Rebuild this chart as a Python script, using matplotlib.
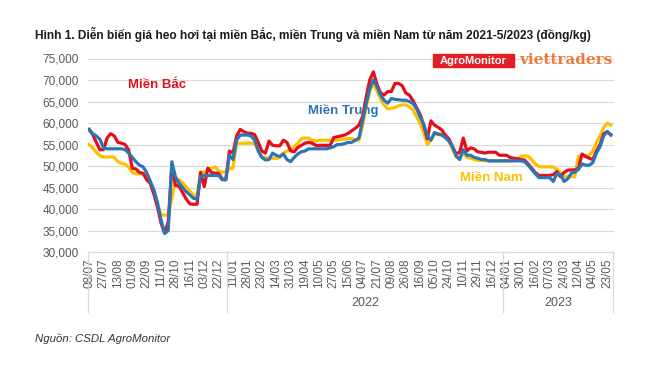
import matplotlib
matplotlib.use('Agg')
import matplotlib.pyplot as plt
from matplotlib.patches import Rectangle
from matplotlib.ticker import FuncFormatter, MultipleLocator

plt.rcParams['font.family'] = ['Liberation Sans', 'DejaVu Sans']

# x axis: one category per data point, a date label on every 4th one
tick_labels = ['08/07', '27/07', '13/08', '01/09', '22/09', '11/10', '28/10', '16/11', '03/12', '22/12',
               '11/01', '28/01', '23/02', '14/03', '31/03', '19/04', '10/05', '27/05', '15/06', '04/07',
               '21/07', '09/08', '26/08', '16/09', '05/10', '24/10', '10/11', '29/11', '16/12',
               '04/01', '30/01', '16/02', '07/03', '24/03', '12/04', '04/05', '23/05']
years = ['2022', '2023']
year_starts = [38.3, 115.0]   # category position where each year begins

# hog prices, dong/kg
mien_bac = [58500, 57300, 55500, 53800, 53800, 56500, 57500, 57000, 55500, 55300,
            55000, 53700, 49500, 49300, 48500, 48300, 46800, 46000, 43500, 40500,
            36700, 34400, 37000, 50200, 45500, 45300, 43800, 42300, 41200, 41100,
            41100, 48500, 45200, 49500, 48500, 48300, 48300, 47000, 46800, 53500,
            53000, 57000, 58500, 58000, 57600, 57600, 57300, 55500, 53500, 53000,
            55800, 54800, 54700, 54700, 56000, 55500, 53500, 53300, 54300, 54800,
            55300, 55500, 55300, 54800, 54800, 54800, 54800, 54800, 56600, 56800,
            57000, 57200, 57600, 58200, 58800, 59500, 61500, 66000, 70000, 71900,
            69000, 67000, 66500, 67300, 67300, 69200, 69200, 68700, 67000, 66500,
            65200, 63600, 62000, 59500, 56300, 60500, 59500, 59000, 58400, 57200,
            56300, 54500, 52800, 53200, 56500, 53500, 54200, 54000, 53300, 53200,
            53000, 53200, 53200, 53200, 52500, 52500, 52500, 52000, 51800, 51700,
            51500, 51400, 50500, 49500, 48500, 47800, 47800, 47800, 47800, 48000,
            48700, 47500, 48500, 49000, 49100, 49100, 49500, 52800, 52200, 51800,
            51500, 53500, 55000, 57500, 58000, 57200]
mien_trung = [58500, 57500, 57000, 56200, 54200, 54000, 54000, 54000, 54000, 54000,
              53800, 53000, 52000, 51000, 50200, 49800, 48500, 46500, 44500, 41500,
              37500, 34300, 35000, 51000, 47500, 46000, 45000, 44000, 43300, 42500,
              42300, 47500, 47800, 47800, 47800, 47800, 47800, 46800, 46800, 52500,
              51500, 56000, 57200, 57200, 57200, 57000, 56000, 53500, 52000, 51400,
              51500, 53000, 52500, 52200, 52800, 51500, 51000, 52000, 52800, 53300,
              53500, 54000, 54000, 54000, 54000, 54000, 54000, 54200, 54500, 55000,
              55000, 55200, 55500, 55500, 56000, 56500, 60500, 64500, 68000, 70000,
              68500, 66500, 65300, 64600, 65700, 65500, 65400, 65300, 65300, 65000,
              64500, 63300, 61400, 59700, 57000, 56000, 57800, 57400, 57200, 56600,
              55800, 54500, 52300, 51500, 53800, 52500, 52500, 52000, 51800, 51500,
              51500, 51200, 51200, 51200, 51200, 51200, 51200, 51200, 51200, 51200,
              51200, 51000, 50200, 49200, 48200, 47300, 47300, 47300, 47300, 46400,
              48200, 48000, 46400, 47000, 48300, 48600, 49200, 50500, 50200, 50200,
              50800, 53000, 54500, 57000, 58000, 57300]
mien_nam = [55000, 54200, 53200, 52400, 52100, 52100, 52100, 52000, 51000, 50600,
            50400, 49800, 48500, 48200, 48200, 48200, 47800, 46200, 44000, 41200,
            38600, 38600, 38600, 42500, 46500, 46800, 46000, 45200, 44200, 43300,
            43000, 48600, 48500, 49000, 49500, 49800, 48800, 48600, 48600, 49400,
            49500, 55300, 55300, 55300, 55300, 55300, 55300, 54000, 52000, 52000,
            51800, 51800, 51800, 52000, 53000, 53500, 53800, 54500, 55300, 56400,
            56500, 56500, 56000, 55800, 56000, 56000, 56000, 56000, 56000, 56000,
            56200, 56200, 56400, 56400, 56000, 56000, 59500, 63500, 67500, 69000,
            67500, 65500, 64200, 63300, 63400, 63600, 64000, 64200, 64200, 63800,
            63000, 61500, 59800, 57800, 55000, 56000, 57300, 57500, 57500, 57000,
            55800, 54000, 52200, 52000, 53000, 52000, 51800, 51500, 51300, 51300,
            51200, 51200, 51200, 51200, 51200, 51200, 51200, 51200, 51200, 51500,
            52300, 52300, 52300, 51500, 50500, 49900, 49800, 49800, 49800, 49800,
            49200, 48500, 47500, 47500, 47500, 47500, 52300, 52300, 52300, 52500,
            53500, 55500, 57000, 59000, 60000, 59500]

RED = '#E3101B'
BLUE = '#2E75B6'
YELLOW = '#FFC000'
GREY = '#595959'
GRID = '#D9D9D9'

fig = plt.figure(figsize=(6.5, 3.66), dpi=100)
ax = fig.add_axes([88 / 650, 1 - 252 / 366, 525 / 650, 193.5 / 366])

x = range(len(mien_bac))
ax.plot(x, mien_nam, color=YELLOW, lw=2.3, zorder=3)
ax.plot(x, mien_bac, color=RED, lw=2.3, zorder=4)
ax.plot(x, mien_trung, color=BLUE, lw=2.3, zorder=5)

x0, x1 = -0.3, len(mien_bac) - 0.4
ax.set_xlim(x0, x1)
ax.set_ylim(30000, 75000)
ax.yaxis.set_major_locator(MultipleLocator(5000))
ax.yaxis.set_major_formatter(FuncFormatter(lambda v, p: f'{v:,.0f}'))
ax.grid(axis='y', color=GRID, lw=0.9)
ax.set_axisbelow(True)
for line in ax.get_ygridlines():
    line.set_clip_on(False)
for s in ax.spines.values():
    s.set_visible(False)

ax.set_xticks(range(0, 4 * len(tick_labels), 4))
ax.set_xticklabels(tick_labels, rotation=90)
ax.tick_params(axis='x', length=0, pad=4.5, labelsize=8.5, colors=GREY)
ax.tick_params(axis='y', length=0, pad=6.5, labelsize=8.5, colors=GREY)

# year separators and year labels under the date labels
trans = ax.get_xaxis_transform()
for xb in [x0] + year_starts + [x1]:
    ax.plot([xb, xb], [0, -0.31], transform=trans, color=GRID, lw=0.9, clip_on=False)
edges = year_starts + [x1]
for i, yr in enumerate(years):
    ax.text((edges[i] + edges[i + 1]) / 2, -0.264, yr, transform=trans,
            ha='center', va='center', fontsize=9, color=GREY)

# series names
ax.text(10.8, 68840, 'Miền Bắc', color=RED, fontweight='bold', fontsize=9.5, va='center')
ax.text(60.8, 62800, 'Miền Trung', color=BLUE, fontweight='bold', fontsize=9.5, va='center')
ax.text(103, 47200, 'Miền Nam', color=YELLOW, fontweight='bold', fontsize=9.5, va='center')

# title, source, logos
fig.text(35 / 650, 1 - 34 / 366,
         'Hình 1. Diễn biến giá heo hơi tại miền Bắc, miền Trung và miền Nam từ năm 2021-5/2023 (đồng/kg)',
         fontweight='bold', fontsize=8.6, va='center', color='#1A1A1A')
fig.text(35 / 650, 1 - 338 / 366, 'Nguồn: CSDL AgroMonitor', style='italic',
         fontsize=8.2, va='center', color='#333333')

fig.patches.append(Rectangle((433 / 650, 1 - 67 / 366), 81 / 650, 13 / 366,
                             transform=fig.transFigure, color='#E31E24'))
fig.text(473.5 / 650, 1 - 60.5 / 366, 'AgroMonitor', color='white', fontweight='bold',
         fontsize=8, ha='center', va='center')
fig.text(519 / 650, 1 - 60 / 366, 'viettraders', color='#EC7A3C', fontweight='bold',
         fontsize=11, va='center', family='DejaVu Serif')

fig.savefig('out.png', dpi=100)
